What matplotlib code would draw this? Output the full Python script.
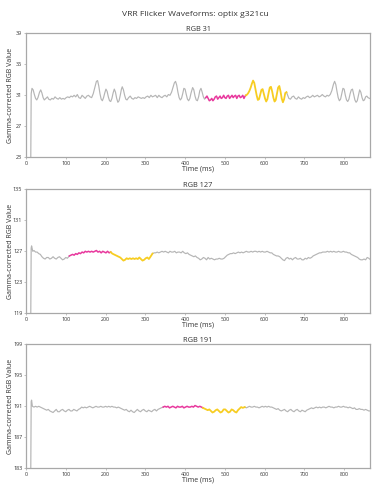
import matplotlib
matplotlib.use("Agg")
import matplotlib.pyplot as plt
import numpy as np

plt.rcParams['font.family'] = ['Open Sans', 'DejaVu Sans']

title = "VRR Flicker Waveforms: optix g321cu"
panel_titles = ["RGB 31", "RGB 127", "RGB 191"]
y_limits = [(23, 39), (119, 135), (183, 199)]
y_ticks = [[23, 27, 31, 35, 39], [119, 123, 127, 131, 135], [183, 187, 191, 195, 199]]
x_ticks = [0, 100, 200, 300, 400, 500, 600, 700, 800]
x_max = 865
# (magenta start, magenta end / yellow start, yellow end)
highlights = [(452, 553, 655), (109, 213, 318), (345, 445, 550)]

t_31 = [12, 13, 15, 18, 21, 24, 27, 30, 34, 37, 40, 43, 46, 50, 54, 57, 61, 65, 69, 73,
        77, 81, 85, 89, 93, 97, 101, 105, 109, 113, 117, 121, 125, 129, 133, 137, 141, 145, 149, 153,
        157, 161, 165, 169, 173, 177, 180, 183, 186, 189, 192, 195, 198, 201, 204, 207, 210, 213, 216, 219,
        222, 225, 228, 231, 234, 237, 240, 242, 245, 248, 251, 254, 258, 262, 266, 270, 274, 278, 282, 286,
        290, 294, 298, 302, 306, 310, 314, 318, 322, 326, 330, 334, 338, 342, 346, 350, 354, 358, 362, 366,
        370, 373, 376, 379, 382, 385, 388, 391, 394, 397, 400, 403, 406, 409, 412, 415, 419, 422, 425, 428,
        431, 434, 437, 440, 443, 446, 449, 452, 455, 458, 461, 464, 467, 470, 473, 476, 479, 482, 485, 488,
        491, 494, 497, 500, 503, 506, 509, 512, 515, 518, 521, 524, 527, 530, 533, 536, 539, 542, 545, 548,
        551, 553, 556, 559, 562, 565, 568, 571, 574, 577, 580, 583, 586, 589, 592, 595, 598, 601, 604, 607,
        610, 613, 616, 619, 622, 625, 628, 631, 634, 637, 640, 643, 646, 649, 652, 655, 658, 661, 665, 669,
        673, 677, 681, 685, 689, 693, 697, 701, 705, 709, 713, 717, 721, 725, 729, 733, 737, 741, 745, 749,
        753, 757, 761, 765, 769, 773, 776, 779, 782, 785, 788, 791, 794, 797, 800, 803, 806, 809, 812, 815,
        818, 821, 824, 827, 830, 833, 836, 839, 842, 845, 848, 851, 854, 857, 860, 864]
v_31 = [23.0, 31.2, 31.9, 31.7, 31.1, 30.6, 30.4, 30.7, 31.4, 31.7, 31.3, 30.7, 30.4, 30.6, 30.8, 30.5, 30.4, 30.6, 30.5, 30.8,
        30.6, 30.5, 30.7, 30.5, 30.6, 30.5, 30.7, 30.8, 30.7, 30.9, 30.8, 31.0, 30.8, 31.1, 30.7, 30.6, 31.0, 30.8, 30.6, 30.9,
        31.0, 30.8, 30.7, 31.2, 32.0, 32.8, 32.9, 32.2, 31.2, 30.5, 30.3, 30.7, 31.3, 31.8, 31.5, 30.8, 30.3, 30.2, 30.6, 31.3,
        31.8, 31.4, 30.6, 30.1, 30.3, 31.0, 31.8, 32.1, 31.7, 31.0, 30.5, 30.4, 30.7, 30.9, 30.6, 30.5, 30.7, 30.6, 30.8, 30.7,
        30.6, 30.7, 30.6, 30.8, 30.9, 30.7, 31.0, 30.8, 30.9, 31.0, 30.7, 31.0, 30.8, 30.7, 30.9, 31.0, 30.8, 31.1, 31.0, 31.4,
        32.1, 32.6, 32.8, 32.3, 31.4, 30.7, 30.4, 30.6, 31.2, 31.9, 31.8, 31.1, 30.5, 30.3, 30.6, 31.3, 32.0, 31.7, 30.9, 30.4,
        30.3, 30.8, 31.6, 31.9, 31.4, 30.8, 30.5, 30.7, 30.9, 30.6, 30.3, 30.4, 30.6, 30.3, 30.5, 30.8, 30.9, 30.5, 30.7, 30.9,
        30.6, 30.7, 31.0, 30.7, 30.6, 30.9, 31.0, 30.6, 30.8, 31.0, 30.7, 30.9, 31.0, 30.6, 30.9, 31.0, 30.7, 30.8, 31.0, 30.6,
        30.9, 31.0, 31.1, 31.3, 31.6, 32.0, 32.5, 32.9, 32.6, 31.8, 31.0, 30.4, 30.5, 31.1, 31.7, 31.8, 31.2, 30.6, 30.2, 30.5,
        31.3, 32.0, 32.1, 31.5, 30.7, 30.2, 30.4, 31.2, 32.0, 32.2, 31.5, 30.6, 30.1, 30.5, 31.3, 31.4, 31.0, 30.6, 30.5, 30.8,
        30.9, 30.6, 30.5, 30.8, 30.6, 30.5, 30.7, 30.6, 30.8, 30.9, 30.7, 30.8, 31.0, 30.8, 30.9, 31.0, 30.8, 30.9, 31.1, 30.9,
        30.8, 31.0, 30.9, 31.1, 31.6, 32.4, 32.8, 32.4, 31.5, 30.7, 30.3, 30.5, 31.2, 31.9, 31.8, 31.0, 30.4, 30.2, 30.5, 31.2,
        31.7, 31.8, 31.1, 30.4, 30.1, 30.3, 31.0, 31.7, 31.4, 30.7, 30.3, 30.4, 30.8, 30.9, 30.7, 30.6]

t_127 = [12, 13, 14, 17, 20, 24, 28, 32, 36, 40, 44, 48, 52, 56, 60, 64, 68, 72, 76, 80,
         84, 88, 92, 96, 100, 104, 109, 113, 117, 121, 125, 129, 133, 137, 141, 145, 149, 153, 157, 161,
         165, 169, 173, 177, 181, 185, 189, 193, 197, 201, 205, 209, 213, 217, 221, 225, 229, 233, 237, 241,
         245, 249, 253, 257, 261, 265, 269, 273, 277, 281, 285, 289, 293, 297, 301, 305, 309, 313, 318, 322,
         326, 330, 334, 338, 342, 346, 350, 354, 358, 362, 366, 370, 374, 378, 382, 386, 390, 394, 398, 402,
         406, 410, 414, 418, 422, 426, 430, 434, 438, 442, 446, 450, 454, 458, 462, 466, 470, 474, 478, 482,
         486, 490, 494, 498, 502, 506, 510, 514, 518, 522, 526, 530, 534, 538, 542, 546, 550, 554, 558, 562,
         566, 570, 574, 578, 582, 586, 590, 594, 598, 602, 606, 610, 614, 618, 622, 626, 630, 634, 638, 642,
         646, 650, 654, 658, 662, 666, 670, 674, 678, 682, 686, 690, 694, 698, 702, 706, 710, 714, 718, 722,
         726, 730, 734, 738, 742, 746, 750, 754, 758, 762, 766, 770, 774, 778, 782, 786, 790, 794, 798, 802,
         806, 810, 814, 818, 822, 826, 830, 834, 838, 842, 846, 850, 854, 858, 862, 864]
v_127 = [119.0, 127.4, 127.7, 127.0, 127.1, 126.9, 126.9, 126.7, 126.6, 126.3, 126.1, 126.0, 126.2, 126.2, 126.0, 126.1, 126.3, 126.1, 126.0, 126.2,
         126.3, 126.1, 125.9, 126.0, 126.2, 126.1, 126.4, 126.5, 126.6, 126.5, 126.7, 126.6, 126.8, 126.7, 126.9, 126.8, 127.0, 126.9, 127.0, 126.9,
         127.0, 126.9, 127.0, 127.1, 126.9, 127.0, 126.8, 127.0, 126.9, 126.8, 127.0, 126.8, 126.9, 126.7, 126.6, 126.5, 126.4, 126.3, 126.2, 126.0,
         125.8, 125.9, 126.1, 126.0, 126.1, 126.0, 126.1, 126.0, 126.1, 126.0, 126.2, 126.0, 125.8, 125.9, 126.1, 126.2, 126.0, 126.3, 126.7, 126.8,
         126.8, 126.9, 126.8, 126.9, 127.0, 126.9, 127.0, 126.9, 126.8, 127.0, 126.9, 126.9, 127.0, 126.8, 126.9, 126.9, 126.8, 127.0, 126.8, 126.7,
         126.8, 126.6, 126.5, 126.4, 126.3, 126.4, 126.2, 126.1, 125.9, 126.0, 126.2, 126.1, 125.9, 126.2, 126.0, 126.1, 126.0, 125.9, 126.0, 126.0,
         126.1, 126.0, 126.0, 126.1, 126.3, 126.5, 126.6, 126.7, 126.7, 126.8, 126.7, 126.8, 126.9, 126.8, 126.9, 126.8, 126.9, 127.0, 126.9, 126.9,
         127.0, 126.9, 127.0, 127.0, 126.9, 127.0, 126.9, 127.0, 126.9, 126.9, 127.0, 126.9, 126.8, 126.8, 126.6, 126.5, 126.4, 126.4, 126.3, 126.1,
         125.9, 125.8, 126.1, 126.2, 126.0, 126.1, 125.9, 126.1, 126.2, 126.0, 126.0, 126.1, 125.9, 125.9, 126.1, 126.0, 126.2, 126.1, 126.2, 126.4,
         126.5, 126.6, 126.7, 126.8, 126.8, 126.9, 126.9, 126.9, 127.0, 126.9, 127.0, 126.9, 127.0, 126.9, 126.9, 127.0, 126.9, 126.9, 127.0, 126.9,
         126.9, 126.8, 126.8, 126.6, 126.5, 126.4, 126.3, 126.2, 126.0, 125.9, 125.9, 126.0, 125.9, 126.2, 126.1, 126.0]

t_191 = [12, 13, 14, 16, 20, 24, 28, 32, 36, 40, 44, 48, 52, 56, 60, 64, 68, 72, 76, 80,
         84, 88, 92, 96, 100, 104, 108, 112, 116, 120, 124, 128, 132, 136, 140, 144, 148, 152, 156, 160,
         164, 168, 172, 176, 180, 184, 188, 192, 196, 200, 204, 208, 212, 216, 220, 224, 228, 232, 236, 240,
         244, 248, 252, 256, 260, 264, 268, 272, 276, 280, 284, 288, 292, 296, 300, 304, 308, 312, 316, 320,
         324, 328, 332, 336, 340, 345, 349, 353, 357, 361, 365, 369, 373, 377, 381, 385, 389, 393, 397, 401,
         405, 409, 413, 417, 421, 425, 429, 433, 437, 441, 445, 449, 453, 457, 461, 465, 469, 473, 477, 481,
         485, 489, 493, 497, 501, 505, 509, 513, 517, 521, 525, 529, 533, 537, 541, 545, 550, 554, 558, 562,
         566, 570, 574, 578, 582, 586, 590, 594, 598, 602, 606, 610, 614, 618, 622, 626, 630, 634, 638, 642,
         646, 650, 654, 658, 662, 666, 670, 674, 678, 682, 686, 690, 694, 698, 702, 706, 710, 714, 718, 722,
         726, 730, 734, 738, 742, 746, 750, 754, 758, 762, 766, 770, 774, 778, 782, 786, 790, 794, 798, 802,
         806, 810, 814, 818, 822, 826, 830, 834, 838, 842, 846, 850, 854, 858, 862, 864]
v_191 = [183.0, 191.6, 191.8, 191.0, 190.9, 191.0, 190.9, 191.0, 190.9, 190.8, 190.7, 190.6, 190.5, 190.6, 190.4, 190.3, 190.2, 190.4, 190.6, 190.3,
         190.3, 190.5, 190.6, 190.4, 190.3, 190.5, 190.6, 190.4, 190.4, 190.6, 190.5, 190.4, 190.6, 190.7, 190.9, 190.8, 190.9, 190.8, 190.9, 191.0,
         190.9, 190.8, 190.9, 191.0, 190.9, 190.9, 191.0, 190.9, 190.9, 191.0, 190.9, 191.0, 190.9, 191.0, 190.9, 190.9, 190.8, 190.9, 190.8, 190.7,
         190.6, 190.5, 190.6, 190.4, 190.3, 190.5, 190.3, 190.2, 190.4, 190.6, 190.4, 190.3, 190.5, 190.6, 190.4, 190.3, 190.5, 190.4, 190.3, 190.5,
         190.6, 190.4, 190.6, 190.7, 190.8, 190.9, 191.0, 190.9, 191.0, 190.8, 190.9, 191.0, 190.9, 190.8, 191.0, 190.9, 190.9, 191.0, 190.8, 190.9,
         191.0, 190.9, 190.9, 191.0, 190.9, 191.1, 191.0, 190.9, 191.0, 190.9, 190.8, 190.7, 190.6, 190.5, 190.6, 190.4, 190.2, 190.3, 190.5, 190.6,
         190.4, 190.2, 190.3, 190.6, 190.6, 190.4, 190.2, 190.3, 190.6, 190.5, 190.3, 190.2, 190.5, 190.7, 190.9, 190.8, 190.9, 190.8, 190.9, 191.0,
         190.9, 190.9, 191.0, 190.9, 190.9, 190.8, 190.9, 191.0, 190.9, 191.0, 190.9, 191.0, 190.9, 190.9, 190.8, 190.7, 190.6, 190.7, 190.5, 190.4,
         190.5, 190.6, 190.4, 190.3, 190.5, 190.6, 190.4, 190.3, 190.5, 190.6, 190.4, 190.3, 190.5, 190.4, 190.3, 190.5, 190.6, 190.7, 190.8, 190.7,
         190.8, 190.9, 190.8, 190.9, 190.8, 190.9, 190.9, 190.8, 190.9, 191.0, 190.9, 190.9, 190.8, 190.9, 190.9, 191.0, 190.9, 190.9, 191.0, 190.9,
         190.9, 190.8, 190.9, 190.8, 190.7, 190.8, 190.6, 190.6, 190.7, 190.6, 190.6, 190.5, 190.6, 190.5, 190.4, 190.4]

series = [(t_31, v_31), (t_127, v_127), (t_191, v_191)]

GRAY = "#b5b5b5"
MAGENTA = "#e8389d"
YELLOW = "#f7cd22"
SPINE = "#a8a8a8"
TEXT = "#333333"

fig = plt.figure(figsize=(3.9, 4.87), dpi=100)
fig.text(0.5, 0.971, title, ha="center", va="center", fontsize=6.1, color=TEXT)

bottoms = [0.677, 0.3567, 0.0384]
for i, ax_bottom in enumerate(bottoms):
    ax = fig.add_axes([0.0667, ax_bottom, 0.882, 0.2546])
    t = np.array(series[i][0], dtype=float)
    v = np.array(series[i][1], dtype=float)
    m0, m1, y1 = highlights[i]
    pre = t <= m0
    mag = (t >= m0) & (t <= m1)
    yel = (t >= m1) & (t <= y1)
    post = t >= y1
    ax.plot(t[pre], v[pre], color=GRAY, lw=0.85)
    ax.plot(t[post], v[post], color=GRAY, lw=0.85)
    ax.plot(t[mag], v[mag], color=MAGENTA, lw=1.1)
    ax.plot(t[yel], v[yel], color=YELLOW, lw=1.3)
    ax.set_xlim(0, x_max)
    ax.set_ylim(*y_limits[i])
    ax.set_yticks(y_ticks[i])
    ax.set_xticks(x_ticks)
    ax.tick_params(labelsize=3.9, colors=TEXT, length=1.5, width=0.5, pad=1.2)
    ax.tick_params(color=SPINE)
    for s in ax.spines.values():
        s.set_color(SPINE)
        s.set_linewidth(0.9)
    ax.set_title(panel_titles[i], fontsize=5.3, color=TEXT, pad=1.5)
    ax.set_xlabel("Time (ms)", fontsize=5.0, color=TEXT)
    ax.xaxis.set_label_coords(0.5, -0.07)
    ax.set_ylabel("Gamma-corrected RGB Value", fontsize=5.0, color=TEXT)
    ax.yaxis.set_label_coords(-0.034, 0.5)

fig.savefig("out.png", dpi=100)
